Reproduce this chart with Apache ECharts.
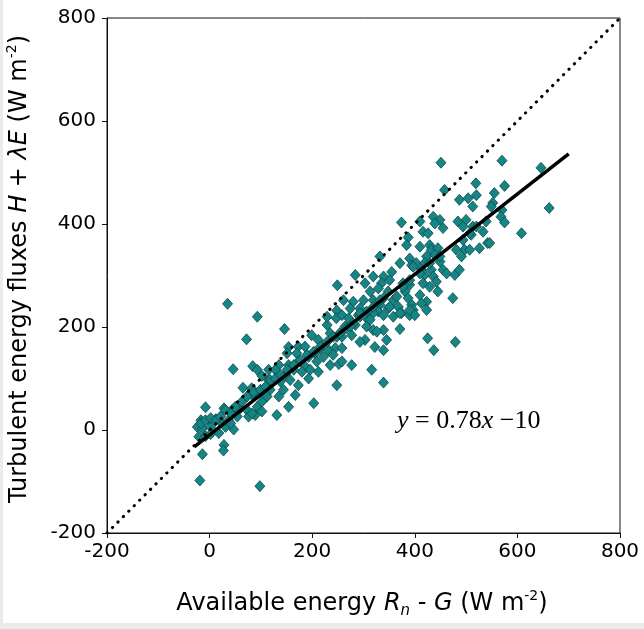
<!DOCTYPE html>
<html>
<head>
<meta charset="utf-8">
<script src="https://cdn.jsdelivr.net/npm/echarts@6/dist/echarts.min.js"></script>
<style>
  html, body { margin: 0; padding: 0; background: #ebebeb; }
  #chart { position: absolute; left: 3px; top: 0; width: 641px; height: 623px; background: #fff; }
</style>
</head>
<body>
<div id="chart"></div>
<script>
// Available energy Rn - G (W m-2)
const energyX = [
  72,46,84,102,65,82,83,99,-8,28,44,60,73,93,102,-17,-1,12,21,37,54,76,89,-24,-14,2,18,31,47,-21,-8,2,28,27,-14,-19,98,35,93,41,
  146,229,229,248,247,199,212,235,248,154,173,186,216,232,245,151,170,193,206,222,241,135,154,173,186,209,235,115,128,148,164,180,196,212,115,138,157,173,193,248,118,135,144,167,154,203,131,112,249,252,
  387,384,332,371,390,394,355,284,319,339,303,335,351,329,377,390,313,348,381,261,280,300,319,339,358,387,274,293,332,348,368,394,258,271,290,309,329,339,358,374,390,397,264,284,306,319,339,371,258,277,303,326,345,293,258,339,277,258,316,339,374,410,319,322,
  451,519,487,504,520,513,436,449,439,455,416,426,484,500,494,510,533,539,513,410,429,432,445,423,439,497,507,526,542,491,403,419,449,413,432,455,462,478,487,419,436,416,429,442,445,410,423,413,423,474,400,425,479,437,458,
  570,646,575,555,552,549,570,568,575,662,608,546,
  -17,-8,2,12,21,31,41,50,63,73,86,99,109,118,128,138,151,164,177,190,203,216,229,241,254,267,280,293,306,319,93,102,83,
  332,351,365,377,390,410,397,429,449,481,494,507,520,293,313,274,254,371,390
];
// Turbulent energy fluxes H + lambdaE (W m-2)
const fluxY = [
  176,118,124,105,82,81,68,74,44,42,39,42,39,45,55,19,19,21,16,19,26,26,29,6,3,6,-6,6,1,-13,-12,-8,-29,-40,-47,-98,-109,245,220,13,
  196,204,220,232,217,184,175,188,181,161,162,162,159,155,159,149,149,142,149,142,146,126,126,133,124,133,126,117,117,107,117,113,117,113,97,94,97,87,100,87,78,65,78,68,45,52,29,65,281,128,
  374,359,337,324,333,320,307,301,298,298,285,285,291,275,285,282,269,269,269,252,249,252,252,256,252,256,236,236,243,236,239,243,223,217,223,214,230,223,220,227,223,233,201,204,201,194,194,196,181,184,175,191,175,171,159,155,126,133,117,92,403,405,227,161,
  519,479,447,450,456,434,414,408,401,392,385,382,405,408,395,379,385,405,395,356,359,350,353,337,340,350,350,353,363,337,324,324,327,311,311,311,304,301,311,301,298,285,278,288,269,262,249,246,233,256,223,178,171,155,466,
  523,509,474,460,441,434,427,414,403,431,382,363,
  13,19,23,19,26,39,32,45,55,65,74,78,84,97,100,107,117,126,136,146,152,162,171,181,188,197,207,220,230,239,117,36,32,
  252,239,259,278,291,304,317,324,337,350,369,382,395,227,214,201,188,227,233
];
// regression line y = 0.78x - 10, drawn between its end points
const fitX = [-30, 700];
const fitY = [-33, 536];
// 1:1 line
const oneX = [-200, 800];
const oneY = [-200, 800];
const axisMin = -200, axisMax = 800, axisStep = 200;

const points = energyX.map((x, i) => [x, fluxY[i]]);
const fitLine = fitX.map((x, i) => [x, fitY[i]]);
const oneLine = oneX.map((x, i) => [x, oneY[i]]);

const chart = echarts.init(document.getElementById('chart'), null, { renderer: 'canvas' });
const labelFont = { fontFamily: 'DejaVu Sans', fontSize: 20, color: '#000' };
const richName = {
  n: { fontFamily: 'DejaVu Sans', fontSize: 24, fill: '#000', lineHeight: 30 },
  i: { fontFamily: 'DejaVu Sans', fontStyle: 'italic', fontSize: 24, fill: '#000', lineHeight: 30 },
  sub: { fontFamily: 'DejaVu Sans', fontStyle: 'italic', fontSize: 15, fill: '#000', verticalAlign: 'bottom', lineHeight: 30 },
  sup: { fontFamily: 'DejaVu Sans', fontSize: 14, fill: '#000', verticalAlign: 'top', lineHeight: 30 }
};

chart.setOption({
  animation: false,
  backgroundColor: '#fff',
  grid: { left: 104, right: 24, top: 18, bottom: 90, show: true, borderColor: '#111', borderWidth: 1, backgroundColor: 'transparent' },
  xAxis: {
    type: 'value', min: axisMin, max: axisMax, interval: axisStep,
    axisLine: { show: true, onZero: false, lineStyle: { color: '#111', width: 1 } },
    axisTick: { show: true, length: 5, lineStyle: { color: '#111' } },
    axisLabel: Object.assign({ margin: 9 }, labelFont),
    splitLine: { show: false }
  },
  yAxis: {
    type: 'value', min: axisMin, max: axisMax, interval: axisStep,
    axisLine: { show: true, onZero: false, lineStyle: { color: '#111', width: 1 } },
    axisTick: { show: true, length: 5, lineStyle: { color: '#111' } },
    axisLabel: Object.assign({ margin: 11 }, labelFont),
    splitLine: { show: false }
  },
  series: [
    {
      type: 'scatter', data: points, symbol: 'diamond', symbolSize: [10, 11],
      itemStyle: { color: '#168585', borderColor: '#0b4848', borderWidth: 0.8, opacity: 1 },
      z: 2
    },
    {
      type: 'line', data: oneLine, symbol: 'none', silent: true,
      lineStyle: { color: '#000', width: 3, type: [0.3, 7.4], cap: 'round' },
      z: 3
    },
    {
      type: 'line', data: fitLine, symbol: 'none', silent: true,
      lineStyle: { color: '#000', width: 3.5 },
      z: 4
    }
  ],
  graphic: [
    {
      type: 'text', x: 359, y: 604,
      style: {
        text: '{n|Available energy }{i|R}{sub|n}{n| - }{i|G}{n| (W m}{sup|-2}{n|)}',
        align: 'center', verticalAlign: 'middle', rich: richName
      }
    },
    {
      type: 'text', x: 17, y: 269, rotation: Math.PI / 2,
      style: {
        text: '{n|Turbulent energy fluxes }{i|H}{n| + }{i|λE}{n| (W m}{sup|-2}{n|)}',
        align: 'center', verticalAlign: 'middle', rich: richName
      }
    },
    {
      type: 'text', x: 394, y: 421,
      style: {
        text: '{i|y}{r| = 0.78}{i|x}{r| −10}',
        align: 'left', verticalAlign: 'middle',
        rich: {
          i: { fontFamily: 'Liberation Serif', fontStyle: 'italic', fontSize: 26, fill: '#000' },
          r: { fontFamily: 'Liberation Serif', fontSize: 26, fill: '#000' }
        }
      }
    }
  ]
});
</script>
</body>
</html>
